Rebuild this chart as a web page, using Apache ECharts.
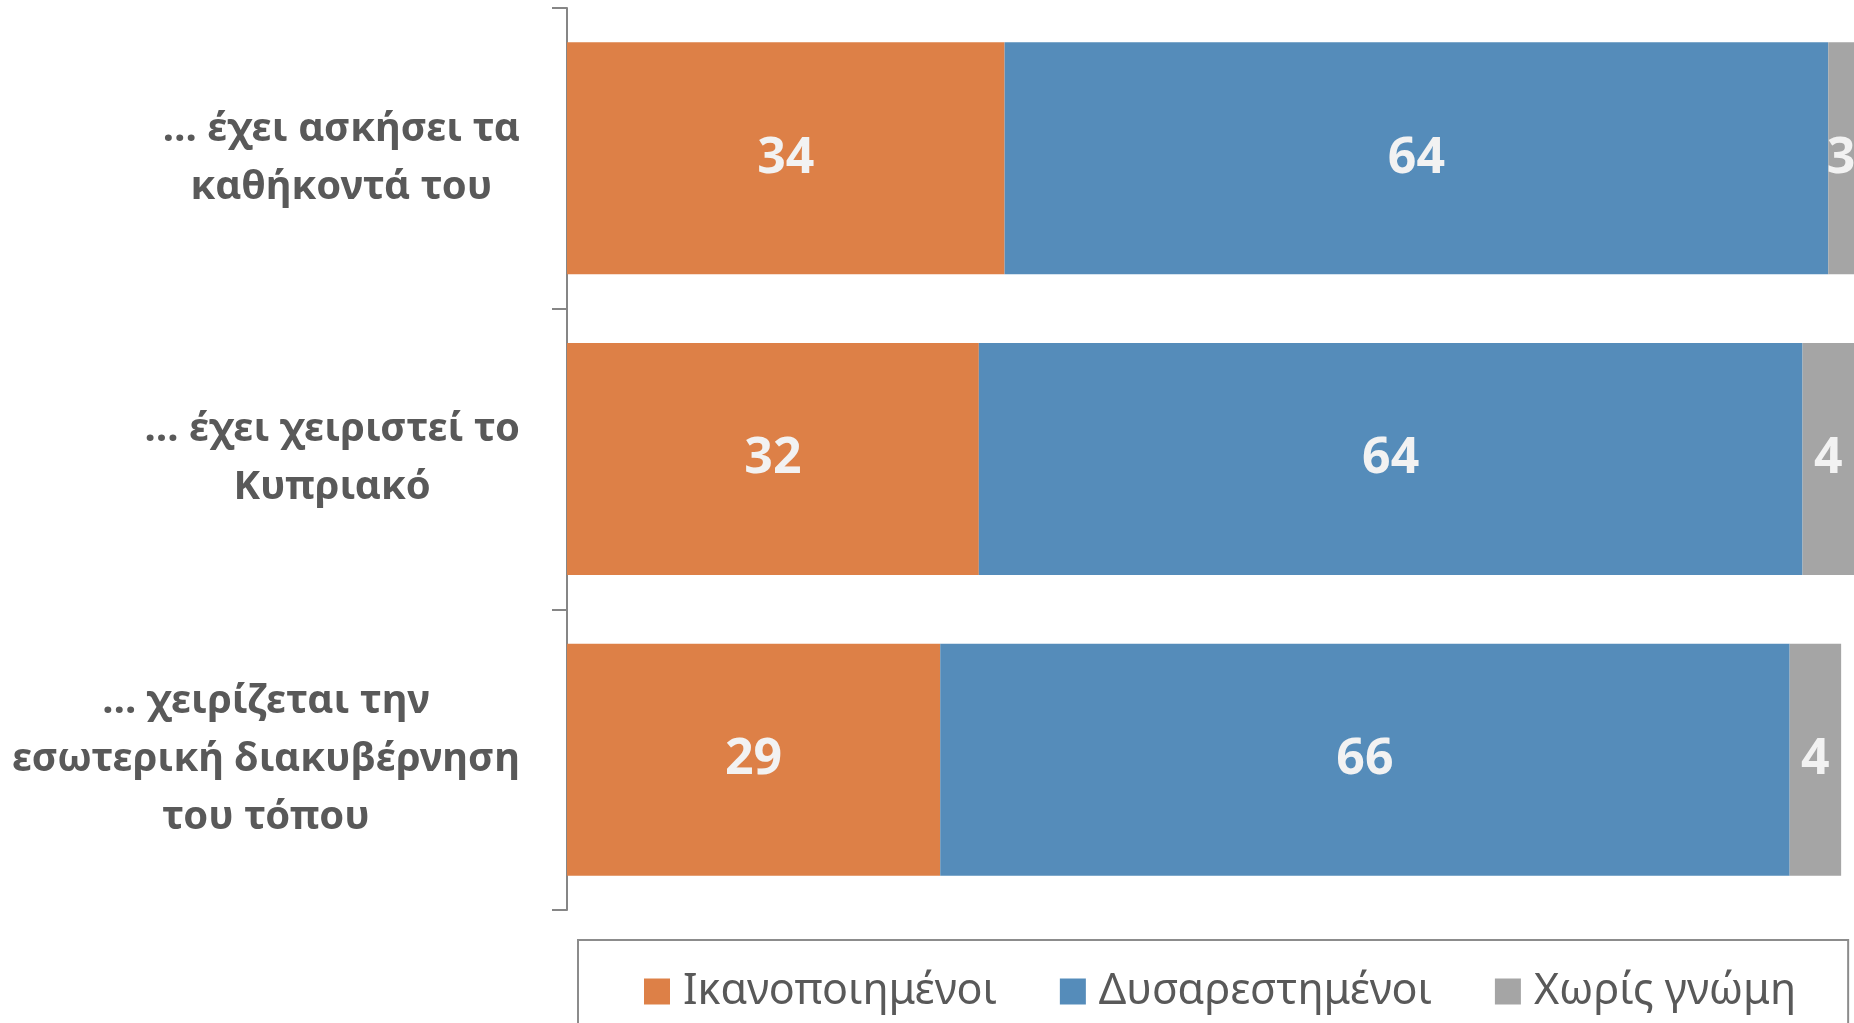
<!DOCTYPE html>
<html>
<head>
<meta charset="utf-8">
<script src="https://cdn.jsdelivr.net/npm/echarts@6/dist/echarts.min.js"></script>
<style>
  html, body { margin: 0; padding: 0; background: #fff; }
  #main { width: 1854px; height: 1023px; }
</style>
</head>
<body>
<div id="main"></div>
<script>
// ερωτήσεις (κατηγορίες)
var categories = [
  '… έχει ασκήσει τα\nκαθήκοντά του',
  '… έχει χειριστεί το\nΚυπριακό',
  '… χειρίζεται την\nεσωτερική διακυβέρνηση\nτου τόπου'
]
var seriesNames = ['Ικανοποιημένοι', 'Δυσαρεστημένοι', 'Χωρίς γνώμη']
var satisfied = [34, 32, 29]
var dissatisfied = [64, 64, 66]
var noOpinion = [3, 4, 4]

var colors = ['#dd8047', '#558cba', '#a5a5a5']
var font = 'Noto Sans'

function makeSeries(name, data, color) {
  return {
    name: name,
    type: 'bar',
    stack: 'total',
    barWidth: 232,
    data: data,
    itemStyle: { color: color },
    label: {
      show: true,
      position: 'inside',
      color: '#f2f2f2',
      fontFamily: font,
      fontWeight: 'bold',
      fontSize: 50
    }
  }
}

var myChart = echarts.init(document.getElementById('main'))
var option = {
  animation: false,
  textStyle: { fontFamily: font },
  grid: {
    left: 567,
    top: 8,
    width: 1290,
    height: 902
  },
  legend: {
    left: 578,
    top: 940,
    padding: [30, 52, 40, 66],
    borderColor: '#8c8c8c',
    borderWidth: 2,
    itemWidth: 26,
    itemHeight: 26,
    itemGap: 63,
    icon: 'rect',
    textStyle: {
      color: '#595959',
      fontFamily: font,
      fontSize: 43,
      padding: [0, 0, 0, 8]
    },
    data: seriesNames
  },
  xAxis: {
    type: 'value',
    min: 0,
    max: 100,
    show: false
  },
  yAxis: {
    type: 'category',
    inverse: true,
    data: categories,
    axisLine: { show: true, lineStyle: { color: '#868686', width: 2 } },
    axisTick: { show: true, length: 15, lineStyle: { color: '#868686', width: 2 } },
    axisLabel: {
      margin: 47,
      align: 'right',
      formatter: function (v) {
        return v.split('\n').map(function (l) { return '{c|' + l + '}' }).join('\n')
      },
      rich: {
        c: {
          align: 'center',
          color: '#595959',
          fontFamily: font,
          fontWeight: 'bold',
          fontSize: 40,
          lineHeight: 58
        }
      }
    }
  },
  series: [
    makeSeries(seriesNames[0], satisfied, colors[0]),
    makeSeries(seriesNames[1], dissatisfied, colors[1]),
    makeSeries(seriesNames[2], noOpinion, colors[2])
  ]
}
myChart.setOption(option)
</script>
</body>
</html>
